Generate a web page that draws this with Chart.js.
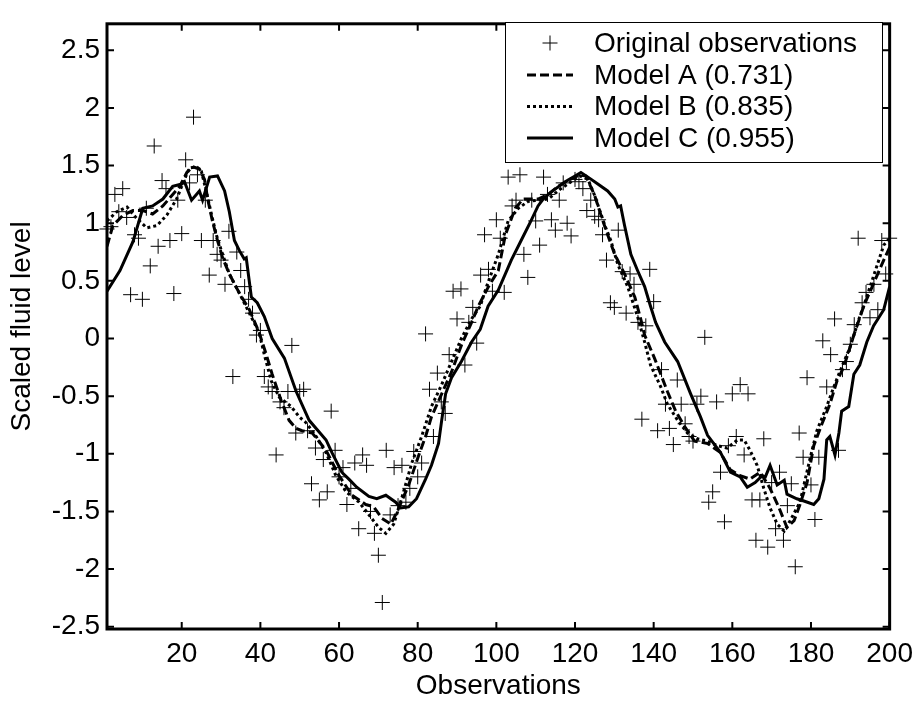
<!DOCTYPE html>
<html>
<head>
<meta charset="utf-8">
<title>Scaled fluid level</title>
<script src="https://cdn.jsdelivr.net/npm/chart.js@4.4.0/dist/chart.umd.min.js"></script>
<style>
  html, body { margin: 0; padding: 0; background: #fff; }
  #wrap { width: 921px; height: 705px; }
</style>
</head>
<body>
<div id="wrap"><canvas id="myChart" width="921" height="705"></canvas></div>
<script>
// quan sát gốc, x = 1..200
const observations = [
  0.95, 0.97, 1.25, 1.10, 1.30, 1.05, 0.38, 0.90, 0.87, 0.34,
  1.13, 0.63, 1.67, 0.80, 1.37, 1.30, 0.85, 0.39, 1.20, 0.91,
  1.55, 1.35, 1.92, 1.42, 0.85, 1.20, 0.55, 0.85, 0.73, 0.68,
  0.47, 0.93, -0.33, 0.75, 0.59, 0.45, 0.34, 0.22, 0.03, 0.07,
  -0.33, -0.42, -0.46, -1.01, -0.55, -0.60, -0.46, -0.06, -0.82, -0.46,
  -0.44, -0.80, -1.26, -0.95, -1.40, -1.05, -1.33, -0.63, -0.97, -1.20,
  -1.12, -1.44, -1.30, -1.08, -1.65, -1.01, -1.10, -1.50, -1.69, -1.88,
  -2.29, -0.97, -1.53, -1.12, -1.45, -1.10, -1.42, -1.30, -0.98, -1.20,
  -1.08, 0.04, -0.44, -0.85, -0.30, -0.55, -0.65, -0.14, 0.41, 0.17,
  0.43, -0.23, 0.14, 0.27, -0.04, 0.55, 0.90, 0.60, 0.41, 1.03,
  0.87, 0.40, 1.40, 1.15, 1.20, 1.42, 0.73, 0.53, 1.20, 1.02,
  0.81, 1.40, 1.25, 1.03, 0.94, 1.20, 1.35, 1.00, 0.89, 1.38,
  1.36, 1.30, 1.11, 1.20, 1.06, 1.03, 0.90, 0.68, 0.31, 0.27,
  0.94, 0.58, 0.22, 0.56, 0.47, 0.14, -0.70, 0.11, 0.60, 0.32,
  -0.80, -0.27, -0.57, -0.78, -0.92, -0.36, -0.57, -0.74, -0.85, -0.89,
  -0.57, -0.50, 0.01, -1.42, -1.33, -0.55, -1.16, -1.59, -0.93, -0.48,
  -0.85, -0.40, -1.01, -0.48, -1.40, -1.75, -1.40, -0.87, -1.81, -1.25,
  -1.65, -1.16, -1.75, -1.45, -1.26, -1.98, -0.82, -1.03, -0.34, -1.27,
  -1.57, -1.03, -0.02, -0.42, -0.14, 0.17, -0.97, -0.27, -0.20, -0.05,
  0.12, 0.87, 0.31, 0.40, 0.18, 0.47, 0.25, 0.85, 0.56, 0.87
];

// Model A (nét đứt)
const modelAx = [1, 2.5, 5.1, 7.6, 10.1, 12.6, 15.2, 17.5, 19.5, 21.3, 22.8, 24.5, 25.8, 26.6, 27.8,
  29.1, 30.4, 32.1, 34.7, 37.2, 39.7, 41.5, 43, 45.3, 47.3, 49.1, 50.6, 53.2, 56.7, 60,
  63.3, 66.8, 68.8, 70.9, 73.2, 75.2, 77.7, 80.2, 82, 83.5, 86.1, 88.6, 91.1, 93.7, 95.4,
  98, 100.5, 102.3, 104.8, 106.8, 110.6, 113.2, 115.7, 118.7, 121.3, 122.8, 125, 126.6, 128.3, 130.1,
  132.6, 135.2, 136.7, 137.7, 140.2, 141.8, 143.5, 145.6, 147.8, 150.4, 153.7, 157, 159.5, 162, 164.5,
  167.1, 169.6, 171.9, 173.9, 175.7, 177.2, 179, 180.7, 182.8, 184.8, 186.6, 188.3, 190.9, 193.4, 198.5, 200];
const modelAy = [0.80, 0.98, 1.07, 1.11, 1.11, 1.08, 1.15, 1.24, 1.32, 1.44, 1.49, 1.47, 1.38, 1.21, 1.02,
  0.85, 0.70, 0.56, 0.39, 0.25, 0.05, -0.14, -0.31, -0.54, -0.71, -0.78, -0.80, -0.82, -0.97, -1.19,
  -1.36, -1.44, -1.46, -1.56, -1.61, -1.47, -1.27, -1.02, -0.85, -0.68, -0.48, -0.29, -0.06, 0.14, 0.28,
  0.45, 0.59, 0.90, 1.13, 1.21, 1.21, 1.25, 1.32, 1.38, 1.42, 1.41, 1.24, 1.07, 0.90, 0.73,
  0.56, 0.36, 0.17, 0.03, -0.17, -0.31, -0.46, -0.63, -0.76, -0.89, -0.91, -0.99, -1.14, -1.19, -1.22,
  -1.16, -1.30, -1.47, -1.64, -1.58, -1.44, -1.25, -0.93, -0.74, -0.57, -0.37, -0.25, 0.03, 0.28, 0.68, 0.79];

// Model B (chấm)
const modelBx = [1, 3.5, 6.1, 8.6, 11.1, 13.7, 16.2, 18.7, 20.7, 22, 23.8, 25, 26.3, 27.6, 28.8,
  30.1, 32.1, 34.7, 37.2, 39.7, 41, 42.8, 44.8, 47.8, 49.9, 51.6, 54.2, 56.7, 59.2, 61.8,
  65.1, 67.6, 70.1, 71.9, 73.9, 75.9, 78.5, 81, 83.5, 86.1, 88.6, 91.1, 93.7, 95.9, 97.5,
  100.5, 103, 105.6, 108.1, 113.2, 116.4, 119, 121.3, 123.3, 125, 127.6, 129.1, 130.9, 133.4, 135.9,
  137.7, 139.2, 141.8, 143.5, 146.1, 148.6, 151.1, 153.7, 156.2, 158.7, 161.3, 163, 164.5, 166.3, 168,
  169.6, 171.4, 173.2, 174.7, 177.2, 179.7, 181.5, 184, 185.8, 187.3, 189.9, 192.4, 193.4, 198.5, 200];
const modelBy = [1.02, 1.10, 1.14, 1.04, 0.96, 0.98, 1.07, 1.21, 1.38, 1.48, 1.49, 1.45, 1.27, 1.07, 0.90,
  0.76, 0.56, 0.39, 0.22, 0.05, -0.14, -0.37, -0.51, -0.59, -0.68, -0.73, -0.85, -0.99, -1.19, -1.33,
  -1.42, -1.53, -1.64, -1.69, -1.61, -1.39, -1.08, -0.85, -0.59, -0.40, -0.20, 0.00, 0.17, 0.28, 0.45,
  0.73, 1.02, 1.13, 1.19, 1.21, 1.30, 1.36, 1.41, 1.38, 1.24, 0.98, 0.85, 0.64, 0.45, 0.19,
  -0.03, -0.23, -0.42, -0.57, -0.71, -0.82, -0.87, -0.89, -0.93, -0.95, -0.88, -0.88, -0.97, -1.10, -1.30,
  -1.47, -1.61, -1.67, -1.58, -1.42, -1.05, -0.80, -0.59, -0.42, -0.29, -0.08, 0.19, 0.28, 0.81, 0.87];

// Model C (liền)
const modelCx = [1, 4.3, 7.6, 10.1, 12.6, 15.2, 17.7, 20, 20.7, 22.5, 24.5, 25.3, 27.1, 29.1, 30.9,
  32.1, 33.4, 34.7, 35.9, 36.4, 37.7, 39.2, 41, 43, 46.1, 49.1, 52.4, 56.7, 58.2, 60.7,
  62.5, 64.5, 67.6, 69.6, 71.9, 74.4, 75.7, 77.7, 79.7, 82, 83.5, 85.3, 86.1, 87.1, 88.6,
  91.1, 93.7, 95.9, 97.9, 100.5, 103.8, 106.3, 108.8, 110.6, 111.9, 113.9, 117.5, 120, 121.5, 123.3,
  125.8, 128.3, 130.1, 130.9, 131.6, 132.6, 134.2, 135.9, 137.7, 139.2, 140.5, 142.8, 146.1, 149.4, 151.9,
  153.7, 157, 159.5, 162, 163.8, 165.8, 167.6, 168.4, 169.6, 171.4, 173.2, 173.9, 176.4, 178.2, 180.7,
  182, 183.3, 184, 184.8, 186.1, 187.1, 187.8, 189.6, 190.9, 192.4, 194.2, 195.9, 198.5, 200];
const modelCy = [0.41, 0.59, 0.84, 1.13, 1.15, 1.21, 1.32, 1.34, 1.36, 1.20, 1.28, 1.20, 1.40, 1.41, 1.28,
  1.10, 0.85, 0.76, 0.69, 0.70, 0.36, 0.31, 0.19, 0.00, -0.17, -0.46, -0.71, -0.88, -0.99, -1.16,
  -1.22, -1.29, -1.37, -1.39, -1.36, -1.42, -1.47, -1.46, -1.39, -1.22, -1.10, -0.91, -0.71, -0.48, -0.34,
  -0.20, -0.03, 0.08, 0.28, 0.42, 0.68, 0.85, 1.02, 1.15, 1.21, 1.27, 1.36, 1.41, 1.44, 1.40,
  1.34, 1.28, 1.21, 1.14, 1.15, 0.98, 0.73, 0.59, 0.45, 0.28, 0.14, -0.03, -0.20, -0.48, -0.68,
  -0.84, -0.99, -1.16, -1.20, -1.29, -1.25, -1.19, -1.20, -1.10, -1.27, -1.23, -1.35, -1.39, -1.41, -1.44,
  -1.39, -1.22, -0.88, -0.85, -1.01, -0.82, -0.63, -0.59, -0.31, -0.23, -0.03, 0.11, 0.25, 0.45];

const seriesNames = ['Original observations', 'Model A (0.731)', 'Model B (0.835)', 'Model C (0.955)'];
const xTicks = [20, 40, 60, 80, 100, 120, 140, 160, 180, 200];
const yTicks = [-2.5, -2, -1.5, -1, -0.5, 0, 0.5, 1, 1.5, 2, 2.5];

const FONT = "'Liberation Sans', Arial, sans-serif";
const lineDash = [[], [9, 4], [3, 3], []];

const toPoints = (xs, ys) => xs.map((x, i) => ({ x: x, y: ys[i] }));

// khung + vạch chia hướng vào trong
const framePlugin = {
  id: 'frame',
  afterDatasetsDraw(chart) {
    const ctx = chart.ctx;
    const a = chart.chartArea;
    const sx = chart.scales.x, sy = chart.scales.y;
    ctx.save();
    ctx.strokeStyle = '#000';
    ctx.lineWidth = 2;
    ctx.beginPath();
    xTicks.forEach(v => {
      const px = sx.getPixelForValue(v);
      ctx.moveTo(px, a.bottom); ctx.lineTo(px, a.bottom - 7);
      ctx.moveTo(px, a.top); ctx.lineTo(px, a.top + 7);
    });
    yTicks.forEach(v => {
      const py = sy.getPixelForValue(v);
      ctx.moveTo(a.left, py); ctx.lineTo(a.left + 7, py);
      ctx.moveTo(a.right, py); ctx.lineTo(a.right - 7, py);
    });
    ctx.stroke();
    ctx.lineWidth = 3;
    ctx.strokeRect(a.left, a.top, a.right - a.left, a.bottom - a.top);
    ctx.restore();
  },
  afterDraw(chart) {
    // chú thích trong vùng vẽ
    const ctx = chart.ctx;
    const box = { left: 505, top: 22, right: 882, bottom: 162 };
    const rows = [43, 75, 106.5, 138];
    ctx.save();
    ctx.fillStyle = '#fff';
    ctx.fillRect(box.left, box.top, box.right - box.left, box.bottom - box.top);
    ctx.strokeStyle = '#000';
    ctx.lineWidth = 1;
    ctx.strokeRect(box.left + 0.5, box.top + 0.5, box.right - box.left, box.bottom - box.top);
    rows.forEach((y, i) => {
      ctx.beginPath();
      if (i === 0) {
        ctx.lineWidth = 1;
        ctx.setLineDash([]);
        ctx.moveTo(550 - 7.5, y); ctx.lineTo(550 + 7.5, y);
        ctx.moveTo(550, y - 7.5); ctx.lineTo(550, y + 7.5);
      } else {
        ctx.lineWidth = 3;
        ctx.setLineDash(lineDash[i]);
        ctx.moveTo(527, y); ctx.lineTo(573, y);
      }
      ctx.stroke();
      ctx.setLineDash([]);
      ctx.fillStyle = '#000';
      ctx.font = '28px ' + FONT;
      ctx.textBaseline = 'middle';
      ctx.textAlign = 'left';
      ctx.fillText(seriesNames[i], 594, y + 1);
    });
    ctx.restore();
  }
};

const ctx = document.getElementById('myChart');
new Chart(ctx, {
  type: 'line',
  data: {
    datasets: [
      {
        label: seriesNames[0],
        data: observations.map((v, i) => ({ x: i + 1, y: v })),
        showLine: false,
        pointStyle: 'cross',
        pointRadius: 7.5,
        pointBorderWidth: 1,
        borderColor: '#000',
        backgroundColor: '#000',
        clip: 10
      },
      {
        label: seriesNames[1],
        data: toPoints(modelAx, modelAy),
        borderColor: '#000',
        borderWidth: 3,
        borderDash: lineDash[1],
        pointRadius: 0,
        tension: 0
      },
      {
        label: seriesNames[2],
        data: toPoints(modelBx, modelBy),
        borderColor: '#000',
        borderWidth: 3,
        borderDash: lineDash[2],
        pointRadius: 0,
        tension: 0
      },
      {
        label: seriesNames[3],
        data: toPoints(modelCx, modelCy),
        borderColor: '#000',
        borderWidth: 3,
        pointRadius: 0,
        tension: 0
      }
    ]
  },
  options: {
    responsive: false,
    animation: false,
    events: [],
    layout: { padding: { top: 11, right: 27, left: 0, bottom: 0 } },
    plugins: {
      legend: { display: false },
      tooltip: { enabled: false }
    },
    scales: {
      x: {
        type: 'linear',
        min: 1,
        max: 200,
        afterBuildTicks: s => { s.ticks = xTicks.map(v => ({ value: v })); },
        afterFit: s => { s.height = 76; },
        grid: { display: false, drawTicks: false },
        border: { display: false },
        ticks: {
          color: '#000', font: { family: FONT, size: 28 }, padding: 8,
          maxRotation: 0, autoSkip: false, callback: v => String(v)
        },
        title: {
          display: true, text: 'Observations', color: '#000',
          font: { family: FONT, size: 28 }, padding: { top: 0, bottom: 2 }
        }
      },
      y: {
        type: 'linear',
        min: -2.52,
        max: 2.73,
        afterBuildTicks: s => { s.ticks = yTicks.map(v => ({ value: v })); },
        afterFit: s => { s.width = 107; },
        grid: { display: false, drawTicks: false },
        border: { display: false },
        ticks: {
          color: '#000', font: { family: FONT, size: 28 }, padding: 7,
          autoSkip: false, callback: v => String(v)
        },
        title: {
          display: true, text: 'Scaled fluid level', color: '#000',
          font: { family: FONT, size: 28 }, padding: { top: 5, bottom: 0 }
        }
      }
    }
  },
  plugins: [framePlugin]
});
</script>
</body>
</html>
